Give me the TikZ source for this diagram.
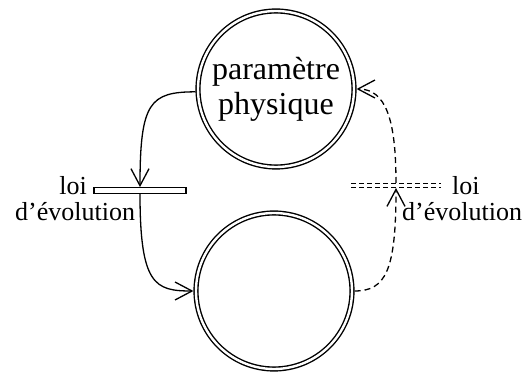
\documentclass[tikz,border=0pt]{standalone}
\usepackage{fontspec}
\setmainfont{Liberation Serif}
\usetikzlibrary{arrows.meta}
\begin{document}
\begin{tikzpicture}[x=1pt,y=-1pt,
  state/.style={circle,draw,double,line width=1.4pt,double distance=2.4pt,
    minimum size=156pt,inner sep=0pt,outer sep=2.6pt,align=center,
    font=\fontsize{32}{35}\selectfont},
  tipV/.style={-{Straight Barb[length=17pt,width=18pt]}},
  solidconn/.style={line width=1.3pt,tipV},
  dashconn/.style={line width=1.3pt,dash pattern=on 6pt off 4pt,tipV},
  lbl/.style={font=\fontsize{26}{30}\selectfont,inner sep=0pt}
]
\useasboundingbox (0,0) rectangle (528,374);
\node[state] (top) at (276,89) {paramètre\\physique};
\node[state] (bot) at (274,291) {};
\node[draw,line width=1.3pt,minimum width=92pt,minimum height=5.5pt,inner sep=0pt] (bar1) at (140,190.5) {};
\node[minimum width=90pt,minimum height=5pt,inner sep=0pt,outer sep=0pt] (bar2) at (396,185.5) {};
\draw[line width=1.3pt,double,double distance=2.4pt,dash pattern=on 5pt off 3pt] (bar2.west) -- (bar2.east);
\draw[solidconn] (top.182) .. controls (150,92) and (140,102) .. (bar1.north);
\draw[solidconn] (bar1.south) .. controls (140,285) and (155,291) .. (bot.west);
\draw[dashconn] (bot.east) .. controls (386,291) and (396,270) .. (bar2.south);
\draw[dashconn] (bar2.north) .. controls (396,120) and (386,89) .. (top.east);
\node[lbl,anchor=base east] (l1) at (87,195) {loi};
\node[lbl,anchor=base west] (l2) at (15,221) {d’évolution};
\node[lbl,anchor=base west] (r1) at (452,195) {loi};
\node[lbl,anchor=base west] (r2) at (402,221) {d’évolution};
\end{tikzpicture}
\end{document}
